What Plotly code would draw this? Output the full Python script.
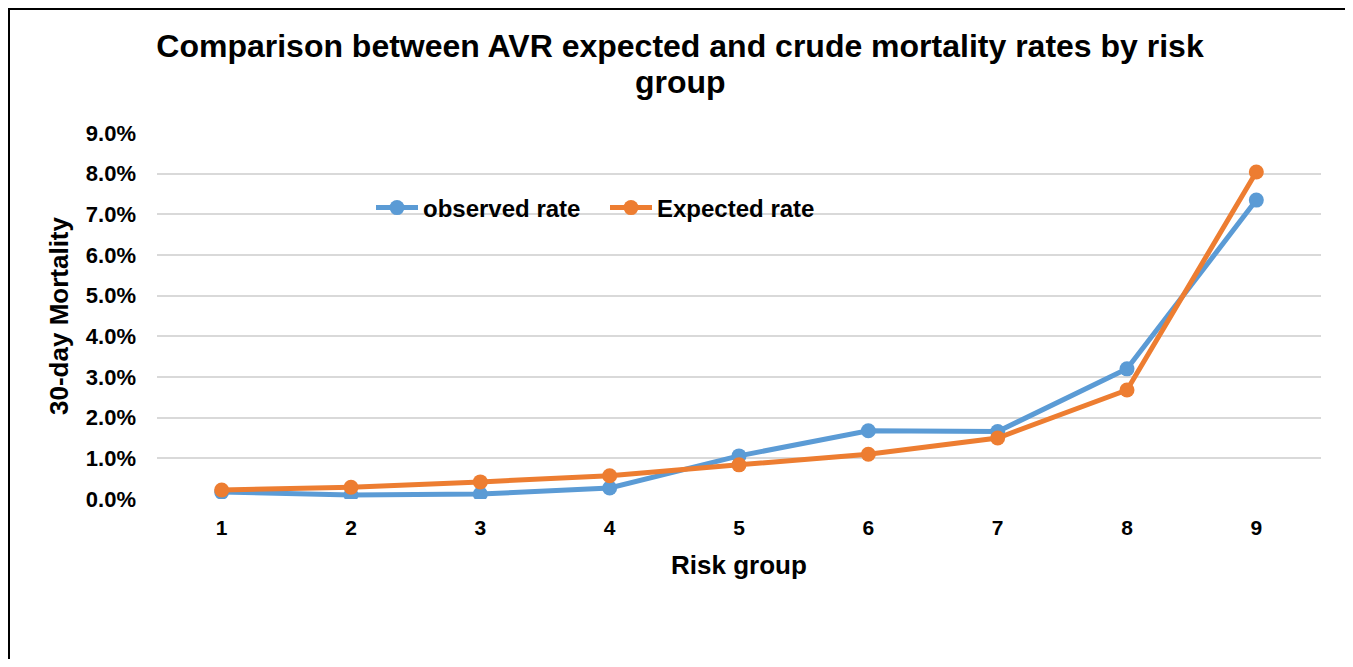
import plotly.graph_objects as go

risk_groups = ["1", "2", "3", "4", "5", "6", "7", "8", "9"]
observed_rate = [0.0017, 0.0010, 0.0012, 0.0027, 0.0106, 0.0168, 0.0166, 0.0320, 0.0735]
expected_rate = [0.0022, 0.0029, 0.0042, 0.0057, 0.0084, 0.0110, 0.0150, 0.0268, 0.0804]
y_ticks = [0.0, 0.01, 0.02, 0.03, 0.04, 0.05, 0.06, 0.07, 0.08, 0.09]
title_lines = ["Comparison between AVR expected and crude mortality rates by risk", "group"]

FONT = "Arial, Liberation Sans, Helvetica, sans-serif"
BLUE = "#5B9BD5"
ORANGE = "#ED7D31"

fig = go.Figure()
fig.add_trace(go.Scatter(
    x=risk_groups, y=observed_rate, name="observed rate", mode="lines+markers",
    line=dict(color=BLUE, width=5), marker=dict(color=BLUE, size=15)))
fig.add_trace(go.Scatter(
    x=risk_groups, y=expected_rate, name="Expected rate", mode="lines+markers",
    line=dict(color=ORANGE, width=5), marker=dict(color=ORANGE, size=15)))

# page offset of the plot div (body margin)
OFF = 8
W, H = 1345, 651
L = 157 - OFF
T = 133 - OFF
R = W - (1321 - OFF)
B = H - (499 - OFF)
pw, ph = W - L - R, H - T - B

def px(x):
    return (x - OFF - L) / pw

def py(y):
    return (H - B - (y - OFF)) / ph

def cx(x):
    return (x - OFF) / W

def cy(y):
    return 1 - (y - OFF) / H

BOLD = dict(family=FONT, color="black", weight="bold")

fig.update_layout(
    width=W, height=H,
    margin=dict(l=L, r=R, t=T, b=B, autoexpand=False),
    paper_bgcolor="white", plot_bgcolor="white",
    font=dict(family=FONT, color="black", size=20),
    title=dict(
        text=title_lines[0],
        x=cx(680), xanchor="center", y=cy(46), yanchor="middle",
        font=dict(size=32, **BOLD)),
    xaxis=dict(
        type="category", range=[-0.5, 8.5],
        showgrid=False, showline=False, zeroline=False, ticks="",
        tickfont=dict(size=21, **BOLD), ticklabelstandoff=14,
        title=dict(text="Risk group", font=dict(size=26, **BOLD), standoff=17)),
    yaxis=dict(
        range=[0, 0.09], tickvals=y_ticks, tickformat=".1%",
        showgrid=True, gridcolor="#D9D9D9", gridwidth=2,
        zeroline=False, showline=False, ticks="",
        tickfont=dict(size=22, **BOLD), ticklabelstandoff=20,
        title=dict(text="30-day Mortality", font=dict(size=26, **BOLD), standoff=9)),
    legend=dict(
        orientation="h", x=px(371), xanchor="left", y=py(208), yanchor="middle",
        font=dict(size=24, **BOLD), bgcolor="rgba(0,0,0,0)",
        itemwidth=42, entrywidth=177, traceorder="normal"),
    showlegend=True,
)

fig.add_annotation(text=title_lines[1], xref="paper", yref="paper",
                   x=cx(680) * W / pw - L / pw, y=py(82), xanchor="center", yanchor="middle",
                   showarrow=False, font=dict(size=32, **BOLD))

# outer frame of the chart area
fig.add_shape(type="rect", xref="paper", yref="paper",
              x0=px(9), x1=px(1351), y0=py(720), y1=py(9),
              line=dict(color="black", width=2), fillcolor="rgba(0,0,0,0)", layer="below")

fig.write_html("out.html")
